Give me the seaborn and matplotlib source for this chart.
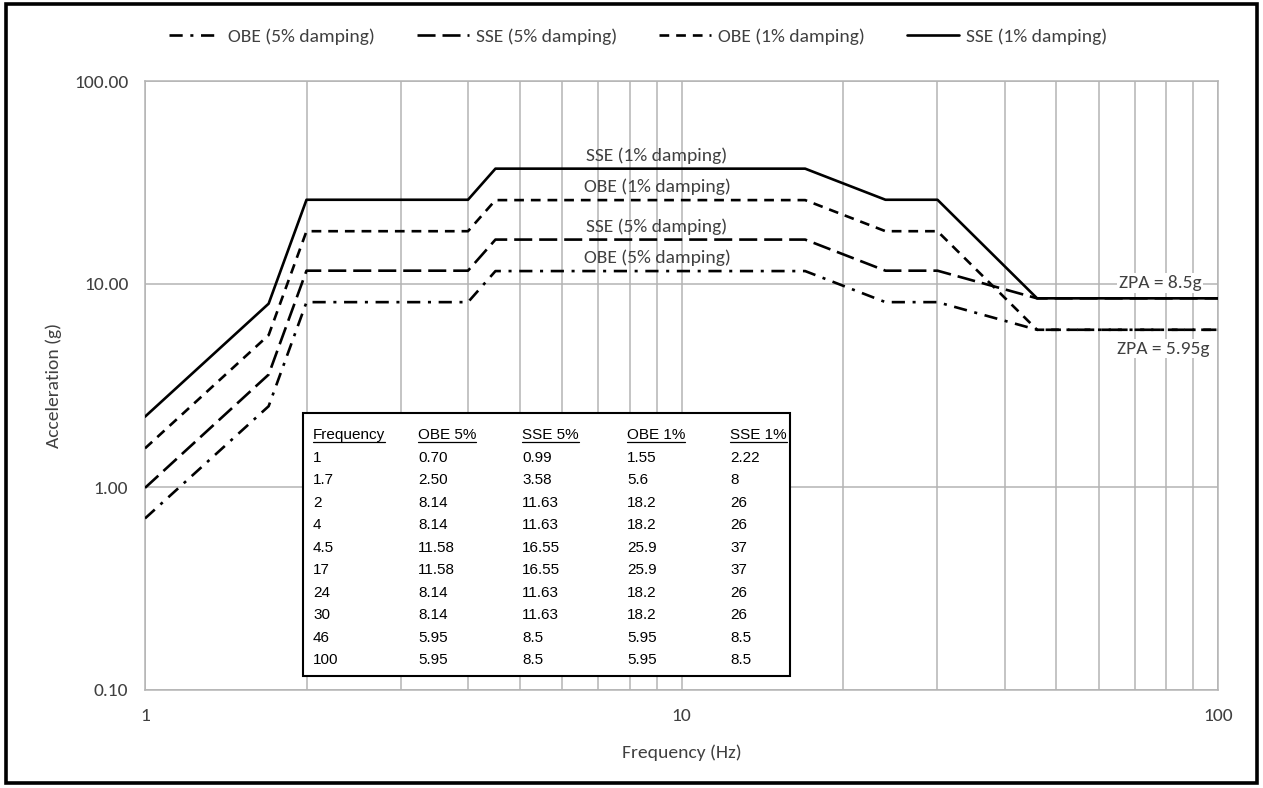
import matplotlib
matplotlib.use('Agg')
import matplotlib.pyplot as plt
import matplotlib.patches as patches
from matplotlib.lines import Line2D
from matplotlib import font_manager
from matplotlib.ticker import FixedLocator, NullFormatter, FuncFormatter
import seaborn as sns

freq = [1, 1.7, 2, 4, 4.5, 17, 24, 30, 46, 100]
obe5 = [0.70, 2.50, 8.14, 8.14, 11.58, 11.58, 8.14, 8.14, 5.95, 5.95]
sse5 = [0.99, 3.58, 11.63, 11.63, 16.55, 16.55, 11.63, 11.63, 8.5, 8.5]
obe1 = [1.55, 5.6, 18.2, 18.2, 25.9, 25.9, 18.2, 18.2, 5.95, 5.95]
sse1 = [2.22, 8, 26, 26, 37, 37, 26, 26, 8.5, 8.5]

series_names = ['OBE (5% damping)', 'SSE (5% damping)', 'OBE (1% damping)', 'SSE (1% damping)']
table_heads = ['Frequency', 'OBE 5%', 'SSE 5%', 'OBE 1%', 'SSE 1%']
x_ticks = [1, 10, 100]
x_minor = [2, 3, 4, 5, 6, 7, 8, 9, 20, 30, 40, 50, 60, 70, 80, 90]
y_ticks = [0.1, 1, 10, 100]
zpa_labels = ['ZPA = 8.5g', 'ZPA = 5.95g']

sns.set_theme(style='white')
names = {f.name for f in font_manager.fontManager.ttflist}
ui_font = 'Carlito' if 'Carlito' in names else 'Lato'
ui_size = 14 if ui_font == 'Carlito' else 12.5
tab_font = 'Liberation Sans Narrow' if 'Liberation Sans Narrow' in names else 'Liberation Sans'
tab_size = 12.5 if tab_font == 'Liberation Sans Narrow' else 11
plt.rcParams['font.family'] = [ui_font, 'DejaVu Sans']
plt.rcParams['lines.scale_dashes'] = False

fig = plt.figure(figsize=(12.63, 7.88), dpi=100)
ax = fig.add_axes([145/1263, 1-690/788, (1218-145)/1263, (690-81)/788])

grid_c = '#b4b4b4'
txt_c = '#404040'
styles = [(0, (9.5, 5.5, 2.2, 5.5)), (0, (13, 5)), (0, (7, 5)), '-']
for vals, name, ls in zip([obe5, sse5, obe1, sse1], series_names, styles):
    sns.lineplot(x=freq, y=vals, ax=ax, color='black', linewidth=1.9,
                 linestyle=ls, label=name, zorder=3)

ax.set_xscale('log')
ax.set_yscale('log')
ax.set_xlim(1, 100)
ax.set_ylim(0.1, 100)
ax.xaxis.set_major_locator(FixedLocator(x_ticks))
ax.xaxis.set_minor_locator(FixedLocator(x_minor))
ax.xaxis.set_minor_formatter(NullFormatter())
ax.xaxis.set_major_formatter(FuncFormatter(lambda v, p: f'{v:g}'))
ax.yaxis.set_major_locator(FixedLocator(y_ticks))
ax.yaxis.set_minor_locator(FixedLocator([]))
ax.yaxis.set_major_formatter(FuncFormatter(lambda v, p: f'{v:.2f}'))
ax.grid(True, which='both', axis='x', color=grid_c, lw=1.1)
ax.grid(True, which='major', axis='y', color=grid_c, lw=1.1)
ax.tick_params(axis='both', which='both', length=0, labelsize=ui_size, colors=txt_c)
ax.tick_params(axis='y', pad=12)
ax.tick_params(axis='x', pad=13)
for s in ax.spines.values():
    s.set_color(grid_c)
    s.set_linewidth(1.1)

ax.set_xlabel('Frequency (Hz)', fontsize=ui_size, color=txt_c)
ax.set_ylabel('Acceleration (g)', fontsize=ui_size, color=txt_c)
ax.xaxis.set_label_coords(0.5, -0.089)
ax.yaxis.set_label_coords(-0.077, 0.5)

# curve labels above the plateau of each curve
for name, vals in zip(series_names, [obe5, sse5, obe1, sse1]):
    ax.annotate(name, xy=(9, vals[5]), xytext=(0, 9.5), textcoords='offset points',
                ha='center', va='center', fontsize=ui_size, color=txt_c, zorder=4)

ax.annotate(zpa_labels[0], xy=(100, sse1[-1]), xytext=(-12, 11), textcoords='offset points',
            ha='right', va='center', fontsize=ui_size, color=txt_c, zorder=4,
            bbox=dict(boxstyle='square,pad=0.1', fc='white', ec='none'))
ax.annotate(zpa_labels[1], xy=(100, obe5[-1]), xytext=(-6, -13.5), textcoords='offset points',
            ha='right', va='center', fontsize=ui_size, color=txt_c, zorder=4,
            bbox=dict(boxstyle='square,pad=0.1', fc='white', ec='none'))

# legend
ax.legend(loc='center', bbox_to_anchor=(638/1263, 1-37/788), bbox_transform=fig.transFigure,
          ncol=4, frameon=False, fontsize=ui_size, handlelength=2.7, handletextpad=0.35,
          columnspacing=2.15, labelcolor=txt_c)

# data table
ax.add_patch(patches.Rectangle(((303-145)/1073, (690-676)/609), (790-303)/1073, (676-413)/609,
                               transform=ax.transAxes, fc='white', ec='black', lw=1.5, zorder=5))
table_cols = [[f'{v:g}' for v in freq], [f'{v:.2f}' for v in obe5],
              [f'{v:g}' for v in sse5], [f'{v:g}' for v in obe1], [f'{v:g}' for v in sse1]]
col_px = [313, 418, 522, 627, 730]
head_texts = []
for cx, head, col in zip(col_px, table_heads, table_cols):
    xa = (cx-145)/1073
    t = ax.text(xa, (690-439)/609, head, transform=ax.transAxes, ha='left', va='baseline',
                family=tab_font, fontsize=tab_size, color='black', zorder=6)
    head_texts.append(t)
    for i, s in enumerate(col):
        ax.text(xa, (690-(462+22.45*i))/609, s, transform=ax.transAxes, ha='left', va='baseline',
                family=tab_font, fontsize=tab_size, color='black', zorder=6)

# underline the table headers
fig.canvas.draw()
inv = fig.transFigure.inverted()
for t in head_texts:
    bb = t.get_window_extent()
    x0, _ = inv.transform((bb.x0, 0))
    x1, _ = inv.transform((bb.x1, 0))
    yy = 1 - 442/788
    fig.add_artist(Line2D([x0, x1], [yy, yy], color='black', lw=0.9, zorder=7))

# outer frame
fig.add_artist(patches.Rectangle((6/1263, 5/788), 1251/1263, 779/788, transform=fig.transFigure,
                                 fill=False, ec='black', lw=2.6))

fig.savefig('out.png', dpi=100)
